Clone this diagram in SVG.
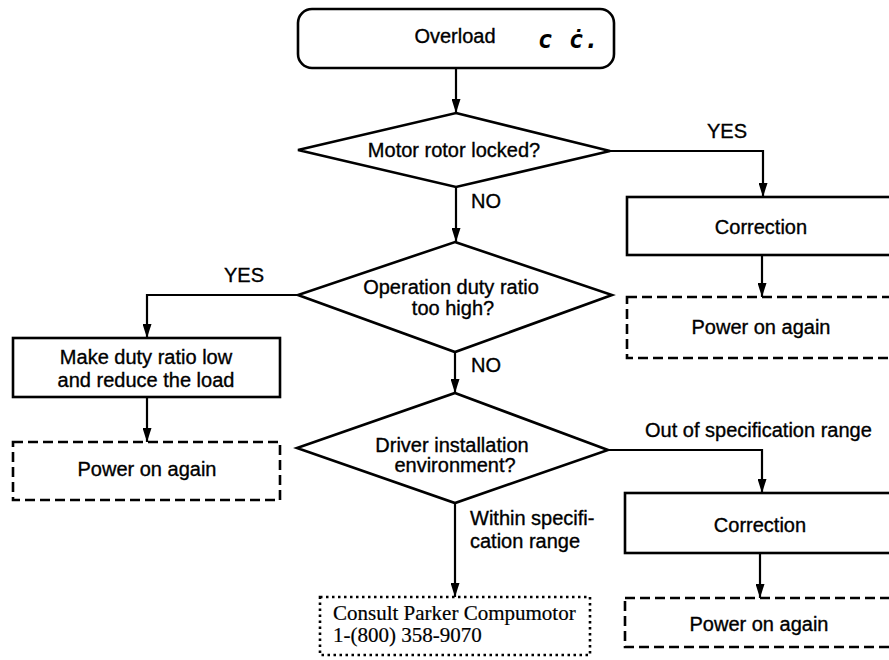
<svg xmlns="http://www.w3.org/2000/svg" width="889" height="660" viewBox="0 0 889 660">
<defs>
<marker id="ah" markerUnits="userSpaceOnUse" markerWidth="14" markerHeight="9" refX="14" refY="4.5" orient="auto" viewBox="0 0 14 9">
<path d="M0,0 L14,4.5 L0,9 Z" fill="#000"/>
</marker>
</defs>
<style>
.t{font-family:"Liberation Sans",Arial,sans-serif;font-size:20px;fill:#000;stroke:#000;stroke-width:0.35;text-anchor:middle}
.l{text-anchor:start}
.s{font-family:"Liberation Serif","Times New Roman",serif;font-size:21px;fill:#000;stroke:#000;stroke-width:0.2}
.box{fill:#fff;stroke:#000;stroke-width:2.6}
.dash{fill:#fff;stroke:#000;stroke-width:2.6;stroke-dasharray:10 5}
.dot{fill:#fff;stroke:#000;stroke-width:2.6;stroke-dasharray:2.5 3.5}
.c{fill:none;stroke:#000;stroke-width:2.2}
.seg{font-family:"DejaVu Sans Mono",monospace;font-size:24px;font-weight:bold;font-style:italic;fill:#000}
</style>
<rect width="889" height="660" fill="#fff"/>
<g id="connectors">
<path class="c" d="M456,68 V113" marker-end="url(#ah)"/>
<path class="c" d="M610,151 H763 V197" marker-end="url(#ah)"/>
<path class="c" d="M456,187 V242" marker-end="url(#ah)"/>
<path class="c" d="M298,295 H147 V338" marker-end="url(#ah)"/>
<path class="c" d="M762,255 V297" marker-end="url(#ah)"/>
<path class="c" d="M147,397 V442" marker-end="url(#ah)"/>
<path class="c" d="M455,352 V393" marker-end="url(#ah)"/>
<path class="c" d="M608,450 H762 V493" marker-end="url(#ah)"/>
<path class="c" d="M455,503 V597" marker-end="url(#ah)"/>
<path class="c" d="M760,553 V598" marker-end="url(#ah)"/>
<text class="t" x="727" y="138">YES</text>
<text class="t" x="244" y="282">YES</text>
<text class="t l" x="471" y="208">NO</text>
<text class="t l" x="471" y="372">NO</text>
<text class="t l" x="645" y="437">Out of specification range</text>
<text class="t l" x="470" y="525">Within specifi-</text>
<text class="t l" x="470" y="548">cation range</text>
</g>
<g id="overload">
<rect class="box" x="298" y="9" width="316" height="59" rx="14"/>
<text class="t" x="455" y="43">Overload</text>
<text class="seg" x="538" y="48" letter-spacing="1">c ċ.</text>
</g>
<g id="motor-locked">
<polygon class="box" points="456,113 610,151 456,187 298,150"/>
<text class="t" x="454" y="157">Motor rotor locked?</text>
</g>
<g id="correction1">
<rect class="box" x="627" y="197" width="280" height="58"/>
<text class="t" x="761" y="234">Correction</text>
</g>
<g id="power1">
<rect class="dash" x="627" y="297" width="280" height="61"/>
<text class="t" x="761" y="334">Power on again</text>
</g>
<g id="duty-ratio">
<polygon class="box" points="455,242 612,295 455,352 298,295"/>
<text class="t" x="451" y="294">Operation duty ratio</text>
<text class="t" x="453" y="315">too high?</text>
</g>
<g id="make-duty">
<rect class="box" x="13" y="338" width="267" height="59"/>
<text class="t" x="146" y="364">Make duty ratio low</text>
<text class="t" x="146" y="387">and reduce the load</text>
</g>
<g id="power-left">
<rect class="dash" x="13" y="442" width="267" height="58"/>
<text class="t" x="147" y="476">Power on again</text>
</g>
<g id="driver-env">
<polygon class="box" points="455,393 608,450 455,503 297,448"/>
<text class="t" x="452" y="452">Driver installation</text>
<text class="t" x="455" y="472">environment?</text>
</g>
<g id="correction2">
<rect class="box" x="625" y="493" width="280" height="60"/>
<text class="t" x="760" y="532">Correction</text>
</g>
<g id="power2">
<rect class="dash" x="625" y="598" width="280" height="49"/>
<text class="t" x="759" y="631">Power on again</text>
</g>
<g id="consult">
<rect class="dot" x="320" y="597" width="270" height="58"/>
<text class="s" x="333" y="620">Consult Parker Compumotor</text>
<text class="s" x="333" y="642">1-(800) 358-9070</text>
</g>
</svg>
